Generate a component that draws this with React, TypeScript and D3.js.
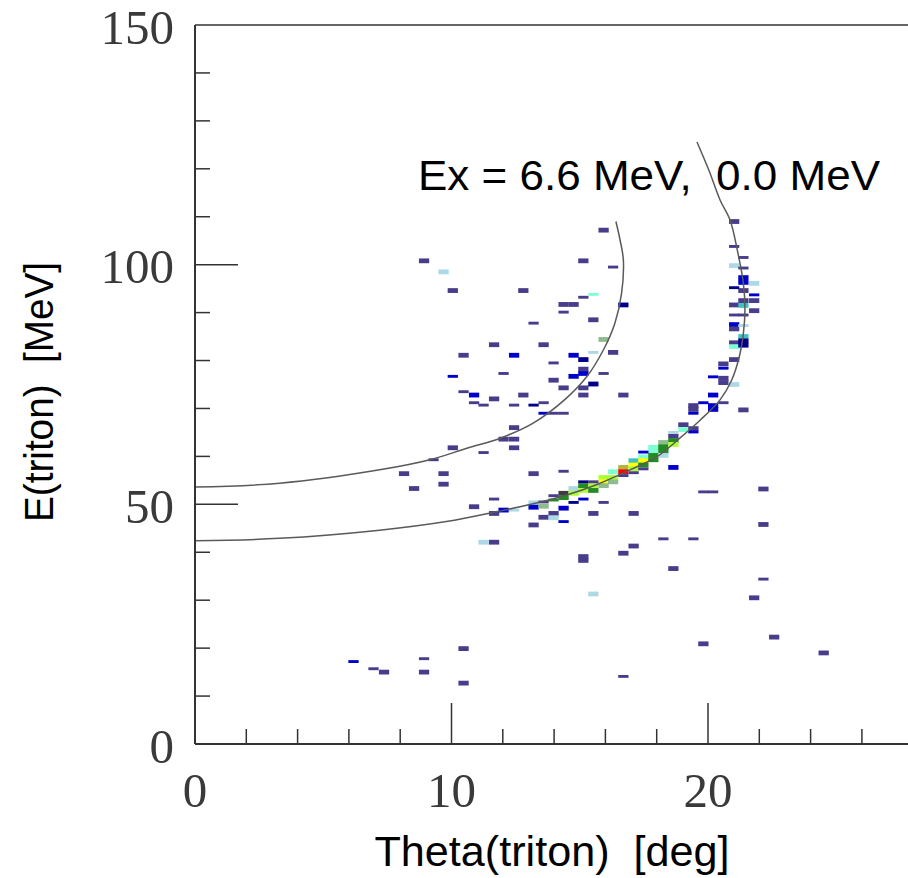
import React from "react";
import * as d3 from "d3";

// ---- axis ticks ----
const xMajorTicks = [0, 10, 20];
const xMinorTicks = [2, 4, 6, 8, 12, 14, 16, 18, 22, 24, 26];
const yMajorTicks = [0, 50, 100, 150];
const yMinorTicks = [10, 20, 30, 40, 60, 70, 80, 90, 110, 120, 130, 140];

// ---- kinematic curves (theta [deg], E [MeV]) ----
const curveEx0: [number, number][] = [
  [0, 42.4], [3.3, 42.9], [7.2, 44.6], [9.8, 46.4], [11.8, 48.5], [13.1, 50.0],
  [14.4, 51.8], [15.7, 54.2], [17.0, 57.3], [18.0, 59.9], [18.9, 63.8], [19.7, 67.6],
  [20.47, 71.8], [20.92, 75.9], [21.22, 80.8], [21.38, 85.7], [21.44, 90.5],
  [21.38, 96.1], [21.14, 103.1], [20.86, 109.3], [20.47, 113.5], [20.05, 119.5],
  [19.57, 125.6],
];
const curveEx66: [number, number][] = [
  [0, 53.6], [3.3, 54.4], [7.2, 57.2], [9.16, 59.3], [10.6, 61.7], [11.9, 63.8],
  [13.2, 67.0], [14.45, 72.0], [15.27, 76.6], [15.92, 82.2], [16.37, 87.8],
  [16.63, 94.0], [16.7, 101.0], [16.57, 105.2], [16.41, 109.0],
];

// ---- histogram bins: [theta low edge, E centre, colour level] ----
const thetaBin = 0.4;
const eBinWide = 1.0;
const eBinNarrow = 0.6;

const binsWide: [number, number, number][] = [
  [7.17, 15.0, 1], [7.95, 56.4, 1], [8.34, 53.3, 1], [8.73, 100.8, 1], [8.73, 15.0, 1],
  [9.49, 98.5, 4], [9.49, 56.4, 1], [9.49, 54.2, 1], [9.85, 94.6, 1], [9.85, 61.8, 1],
  [10.27, 81.1, 1], [10.27, 19.9, 1], [10.27, 12.7, 1], [10.68, 72.8, 2], [10.68, 49.5, 1],
  [11.05, 42.1, 4], [11.46, 83.3, 1], [11.46, 72.0, 1], [11.46, 48.1, 1], [11.46, 42.1, 1],
  [11.83, 63.6, 1], [11.83, 48.8, 2], [12.24, 81.1, 2], [12.24, 66.0, 1], [12.24, 63.6, 1],
  [12.24, 61.8, 1], [12.6, 94.6, 1], [12.6, 72.8, 1],
  [13.0, 56.4, 1], [13.0, 50.3, 4], [13.0, 49.4, 2], [13.0, 45.7, 1],
  [13.39, 83.3, 1], [13.39, 49.6, 7], [13.39, 47.3, 1],
  [13.78, 75.9, 1], [13.78, 48.1, 1], [13.78, 47.2, 4],
  [14.17, 91.7, 1], [14.17, 74.3, 1], [14.17, 52.3, 13], [14.17, 51.4, 8], [14.17, 49.2, 2],
  [14.56, 91.7, 1], [14.56, 81.1, 2], [14.56, 76.7, 2], [14.56, 53.3, 4], [14.56, 52.3, 9],
  [14.94, 100.8, 1], [14.94, 80.2, 3], [14.94, 78.2, 1], [14.94, 77.3, 2], [14.94, 74.3, 1],
  [14.94, 72.8, 1], [14.94, 53.9, 8], [14.94, 52.9, 9], [14.94, 39.1, 1], [14.94, 38.3, 1],
  [15.33, 88.5, 1], [15.33, 75.1, 3], [15.33, 53.9, 9], [15.33, 52.9, 8], [15.33, 48.1, 1],
  [15.33, 31.3, 4],
  [15.73, 107.2, 1], [15.73, 84.4, 7], [15.73, 55.6, 9], [15.73, 54.7, 10], [15.73, 53.9, 7],
  [16.1, 81.7, 1], [16.1, 56.8, 5], [16.1, 55.6, 9], [16.1, 54.7, 7],
  [16.5, 91.6, 3], [16.5, 72.8, 1], [16.5, 57.7, 11], [16.5, 56.8, 12], [16.5, 39.8, 1],
  [16.9, 59.1, 6], [16.9, 58.2, 10], [16.9, 57.4, 9], [16.9, 48.1, 1], [16.9, 41.3, 1],
  [17.28, 59.9, 5], [17.28, 59.1, 10], [17.28, 58.2, 8],
  [17.67, 61.9, 5], [17.67, 61.1, 5], [17.67, 60.2, 8], [17.67, 59.3, 8],
  [18.06, 62.9, 7], [18.06, 62.0, 8], [18.06, 61.1, 8], [18.06, 60.2, 4],
  [18.45, 64.2, 1], [18.45, 63.3, 8], [18.45, 62.5, 9], [18.45, 57.7, 2], [18.45, 36.6, 1],
  [18.84, 66.6, 1], [18.84, 65.6, 5],
  [19.23, 70.6, 1], [19.23, 69.8, 1], [19.23, 65.8, 1],
  [19.62, 20.9, 1],
  [20.0, 72.8, 2], [20.0, 70.6, 2], [20.0, 69.8, 2],
  [20.4, 79.3, 1], [20.4, 76.3, 1], [20.4, 75.4, 1],
  [20.82, 109.0, 1], [20.82, 99.8, 4], [20.82, 91.6, 1], [20.82, 87.5, 2], [20.82, 86.6, 1],
  [20.82, 83.7, 1], [20.82, 82.9, 5], [20.82, 80.2, 1], [20.82, 75.0, 4],
  [21.18, 97.3, 2], [21.18, 96.3, 2], [21.18, 94.6, 1], [21.18, 92.5, 1], [21.18, 91.5, 6],
  [21.18, 85.0, 6], [21.18, 84.1, 3], [21.18, 83.2, 3], [21.18, 69.7, 1],
  [21.6, 96.1, 4], [21.6, 92.5, 1], [21.6, 90.4, 1], [21.6, 30.5, 1],
  [21.96, 53.2, 1], [21.96, 45.8, 1], [22.38, 22.3, 1], [24.31, 19.0, 1],
];

const binsNarrow: [number, number, number][] = [
  [5.98, 17.2, 2], [6.76, 15.7, 1], [8.73, 17.8, 1], [9.1, 59.3, 1], [9.85, 76.7, 2],
  [10.27, 73.5, 1], [10.68, 71.2, 1], [11.05, 70.7, 1], [11.05, 60.8, 1], [11.46, 51.1, 1],
  [11.83, 77.3, 1], [12.24, 70.7, 1], [12.24, 48.8, 4], [13.0, 87.8, 1], [13.0, 70.7, 3],
  [13.39, 71.2, 1], [13.39, 69.0, 2], [13.39, 50.5, 1], [13.78, 79.5, 1], [13.78, 69.0, 1],
  [13.78, 51.8, 1], [13.78, 50.9, 8], [14.17, 90.1, 1], [14.17, 69.0, 1], [14.17, 56.9, 1],
  [14.17, 46.4, 2], [14.56, 50.4, 3], [14.94, 93.2, 1], [14.94, 54.7, 3], [14.94, 51.1, 2],
  [15.33, 93.8, 5], [15.33, 81.7, 4], [15.33, 54.7, 1], [15.73, 77.3, 1], [15.73, 50.4, 1],
  [16.1, 99.5, 1], [16.5, 56.0, 1], [16.5, 14.1, 1], [16.9, 56.6, 1], [17.28, 60.9, 2],
  [17.28, 57.4, 1], [18.06, 42.8, 1], [18.45, 65.0, 4], [19.23, 69.0, 2], [19.23, 65.1, 2],
  [19.23, 42.8, 1], [19.62, 71.2, 2], [19.62, 52.6, 1], [20.0, 76.6, 2], [20.0, 52.6, 1],
  [20.4, 78.4, 2], [20.4, 71.2, 1], [20.82, 103.8, 1], [20.82, 95.2, 3], [20.82, 89.5, 1],
  [21.18, 101.5, 1], [21.18, 99.3, 1], [21.18, 89.5, 1], [21.18, 87.3, 4], [21.6, 93.7, 2],
  [21.96, 34.4, 1],
];

const levels = [1, 2, 3, 4, 5, 6, 7, 8, 9, 10, 11, 12, 13];
const levelColors = [
  "#483d8b", "#0000cd", "#00008b", "#add8e6", "#7fffd4", "#40c0c0", "#8fbc8f",
  "#228b22", "#adff2f", "#ffff00", "#b4b43c", "#ff0000", "#3d3d42",
];

const annotation = "Ex = 6.6 MeV,  0.0 MeV";
const xTitle = "Theta(triton)  [deg]";
const yTitle = "E(triton)  [MeV]";

export default function App() {
  const W = 908, H = 878;
  const x = d3.scaleLinear().domain([0, 28]).range([195, 913.2]);
  const y = d3.scaleLinear().domain([0, 150]).range([744, 25]);
  const color = d3.scaleOrdinal<number, string>().domain(levels).range(levelColors);
  const line = d3.line<[number, number]>().x(d => x(d[0])).y(d => y(d[1])).curve(d3.curveCatmullRom.alpha(0.5));

  const rect = (b: [number, number, number], dE: number, key: string) => (
    <rect key={key} x={x(b[0])} width={x(b[0] + thetaBin) - x(b[0])}
      y={y(b[1] + dE / 2)} height={y(b[1] - dE / 2) - y(b[1] + dE / 2)} fill={color(b[2])} />
  );

  const sans = "'Liberation Sans', Arial, sans-serif";
  const serif = "'Liberation Serif', serif";

  return (
    <div style={{ position: "absolute", left: 0, top: 0 }}>
      <svg width={W} height={H} style={{ display: "block", background: "#fff" }}>
        {/* cells */}
        <g>
          {binsWide.map((b, i) => rect(b, eBinWide, "w" + i))}
          {binsNarrow.map((b, i) => rect(b, eBinNarrow, "n" + i))}
        </g>
        {/* curves */}
        <path d={line(curveEx0) || ""} fill="none" stroke="#5a5a5a" strokeWidth={1.5} />
        <path d={line(curveEx66) || ""} fill="none" stroke="#5a5a5a" strokeWidth={1.5} />
        {/* frame */}
        <line x1={195} x2={W} y1={y(150)} y2={y(150)} stroke="#666" strokeWidth={2} />
        <line x1={195} x2={W} y1={y(0)} y2={y(0)} stroke="#333" strokeWidth={2} />
        <line x1={195} x2={195} y1={y(150)} y2={y(0)} stroke="#333" strokeWidth={2} />
        {/* y ticks */}
        {yMinorTicks.map(t => (
          <line key={"ym" + t} x1={195} x2={210} y1={y(t)} y2={y(t)} stroke="#333" strokeWidth={1.5} />
        ))}
        {yMajorTicks.filter(t => t > 0 && t < 150).map(t => (
          <line key={"yM" + t} x1={195} x2={238} y1={y(t)} y2={y(t)} stroke="#333" strokeWidth={1.5} />
        ))}
        {yMajorTicks.map(t => (
          <text key={"yl" + t} x={174} y={y(t)} dy="0.38em" textAnchor="end"
            fontFamily={serif} fontSize={49} fill="#3a3a3a">{t}</text>
        ))}
        {/* x ticks */}
        {xMinorTicks.map(t => (
          <line key={"xm" + t} x1={x(t)} x2={x(t)} y1={744} y2={729} stroke="#333" strokeWidth={1.5} />
        ))}
        {xMajorTicks.filter(t => t > 0).map(t => (
          <line key={"xM" + t} x1={x(t)} x2={x(t)} y1={744} y2={703} stroke="#333" strokeWidth={1.5} />
        ))}
        {xMajorTicks.map(t => (
          <text key={"xl" + t} x={x(t)} y={790} dy="0.35em" textAnchor="middle"
            fontFamily={serif} fontSize={49} fill="#3a3a3a">{t}</text>
        ))}
        {/* titles */}
        <text x={552} y={866} textAnchor="middle" fontFamily={sans} fontSize={43} fill="#000"
          textLength={355} lengthAdjust="spacingAndGlyphs" style={{ whiteSpace: "pre" }}>{xTitle}</text>
        <text transform="translate(53,392) rotate(-90)" textAnchor="middle" fontFamily={sans}
          fontSize={41} fill="#000" textLength={260} lengthAdjust="spacingAndGlyphs"
          style={{ whiteSpace: "pre" }}>{yTitle}</text>
        <text x={418} y={190} fontFamily={sans} fontSize={43} fill="#000"
          textLength={462} lengthAdjust="spacingAndGlyphs" style={{ whiteSpace: "pre" }}>{annotation}</text>
      </svg>
    </div>
  );
}
